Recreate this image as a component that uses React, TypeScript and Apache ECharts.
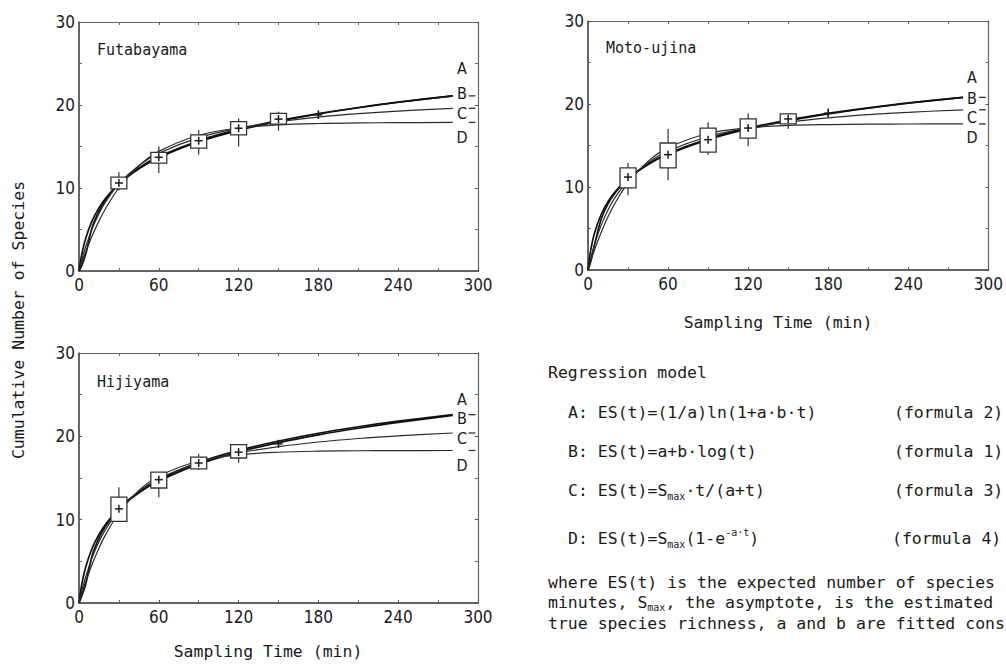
import React, { useEffect, useRef } from "react";
import * as echarts from "echarts";

// ---------- data ----------
const panelNames = ["Futabayama", "Moto-ujina", "Hijiyama"];
const xTickValues = [0, 60, 120, 180, 240, 300];
const yTickValues = [0, 10, 20, 30];
const curveTimes = [0, 2, 5, 10, 15, 20, 30, 45, 60, 90, 120, 150, 180, 210, 240, 281];

// Futabayama fitted curves
const futabayamaA = [0, 1.95, 3.93, 6.1, 7.61, 8.77, 10.5, 12.32, 13.65, 15.57, 16.95, 18.03, 18.92, 19.67, 20.33, 21.1];
const futabayamaB = [0, 0.6, 2.0, 5.3, 7.22, 8.58, 10.5, 12.42, 13.78, 15.7, 17.06, 18.11, 18.97, 19.7, 20.34, 21.1];
const futabayamaC = [0, 1.27, 2.92, 5.15, 6.91, 8.33, 10.5, 12.7, 14.19, 16.07, 17.21, 17.98, 18.53, 18.95, 19.27, 19.6];
const futabayamaD = [0, 0.98, 2.29, 4.28, 6.01, 7.53, 10.0, 12.66, 14.41, 16.36, 17.22, 17.6, 17.77, 17.85, 17.87, 17.9];

// Moto-ujina fitted curves
const motoujinaA = [0, 2.37, 4.53, 6.75, 8.24, 9.36, 11.0, 12.71, 13.95, 15.71, 16.99, 17.98, 18.8, 19.49, 20.09, 20.8];
const motoujinaB = [0, 1.0, 3.13, 6.18, 7.96, 9.22, 11.0, 12.78, 14.04, 15.82, 17.09, 18.07, 18.87, 19.54, 20.13, 20.8];
const motoujinaC = [0, 1.37, 3.12, 5.44, 7.23, 8.66, 10.8, 12.92, 14.33, 16.09, 17.12, 17.83, 18.34, 18.71, 19.0, 19.3];
const motoujinaD = [0, 1.03, 2.47, 4.59, 6.42, 7.99, 10.5, 13.09, 14.74, 16.45, 17.13, 17.41, 17.52, 17.57, 17.59, 17.6];

// Hijiyama fitted curves
const hijiyamaA = [0, 2.15, 4.29, 6.62, 8.23, 9.46, 11.3, 13.23, 14.63, 16.66, 18.1, 19.25, 20.18, 20.97, 21.67, 22.5];
const hijiyamaB = [0, 0.8, 2.23, 5.74, 7.79, 9.25, 11.3, 13.35, 14.8, 16.86, 18.31, 19.44, 20.37, 21.15, 21.82, 22.6];
const hijiyamaC = [0, 1.36, 3.12, 5.49, 7.35, 8.84, 11.1, 13.38, 14.9, 16.84, 17.99, 18.76, 19.32, 19.74, 20.06, 20.4];
const hijiyamaD = [0, 1.06, 2.53, 4.7, 6.58, 8.2, 10.8, 13.5, 15.22, 17.04, 17.78, 18.09, 18.22, 18.27, 18.29, 18.3];

// observed samples: [time, whiskerLow, boxLow, mean, boxHigh, whiskerHigh]
const futabayamaBoxes = [
  [30, 9.7, 9.9, 10.6, 11.3, 11.9],
  [60, 11.8, 13.0, 13.7, 14.3, 15.0],
  [90, 14.0, 14.8, 15.7, 16.4, 17.0],
  [120, 15.0, 16.4, 17.2, 18.0, 18.4],
  [150, 16.9, 17.7, 18.3, 19.0, 19.2],
  [180, 18.4, 18.8, 18.8, 18.8, 19.4],
];
const motoujinaBoxes = [
  [30, 9.0, 9.9, 11.2, 12.3, 12.9],
  [60, 10.8, 12.3, 13.9, 15.3, 17.0],
  [90, 13.9, 14.2, 15.7, 17.1, 17.8],
  [120, 14.9, 15.9, 17.1, 18.2, 18.9],
  [150, 17.0, 17.6, 18.2, 18.8, 18.9],
  [180, 18.4, 18.9, 18.9, 18.9, 19.5],
];
const hijiyamaBoxes = [
  [30, 9.8, 9.8, 11.3, 12.7, 13.9],
  [60, 12.7, 13.8, 14.8, 15.7, 15.7],
  [90, 16.0, 16.1, 16.8, 17.5, 17.9],
  [120, 16.8, 17.4, 18.1, 19.0, 19.0],
  [150, 18.8, 19.1, 19.1, 19.1, 19.4],
];

const curveNames = ["A", "B", "C", "D"];
const panelCurves = [
  [futabayamaA, futabayamaB, futabayamaC, futabayamaD],
  [motoujinaA, motoujinaB, motoujinaC, motoujinaD],
  [hijiyamaA, hijiyamaB, hijiyamaC, hijiyamaD],
];
const panelBoxes = [futabayamaBoxes, motoujinaBoxes, hijiyamaBoxes];

// ---------- layout / style ----------
const MONO = "'DejaVu Sans Mono', 'Liberation Mono', monospace";
const NARROW = "'Liberation Sans Narrow', 'DejaVu Sans Condensed', 'Liberation Sans', sans-serif";
const INK = "#1a1a1a";
const grids = [
  { left: 79, top: 22, width: 399, height: 249 },
  { left: 588, top: 21, width: 402, height: 249 },
  { left: 79, top: 353, width: 399, height: 250 },
];
const panelTitlePos = [
  [97, 50],
  [606, 48],
  [97, 382],
];
const letterPos = [
  [462, [68, 93, 113, 137]],
  [972, [77, 98, 117, 137]],
  [462, [399, 418, 438, 465]],
];
const BOX_W = 12; // minutes
const DASH_FROM = 293;
const DASH_TO = 298;
const curveStyles = [
  { color: "#111", width: 1.7 },
  { color: "#111", width: 1.7 },
  { color: "#2a2a2a", width: 1.2 },
  { color: "#2a2a2a", width: 1.2 },
];

function boxRender(params: any, api: any) {
  const t = api.value(0);
  const lo = api.coord([t, api.value(1)]);
  const q1 = api.coord([t, api.value(2)]);
  const m = api.coord([t, api.value(3)]);
  const q3 = api.coord([t, api.value(4)]);
  const hi = api.coord([t, api.value(5)]);
  const w = api.size([BOX_W, 0])[0];
  const c = 4;
  const children: any[] = [
    { type: "line", shape: { x1: lo[0], y1: lo[1], x2: hi[0], y2: hi[1] }, style: { stroke: "#333", lineWidth: 1.2 } },
  ];
  if (q1[1] - q3[1] > 1) {
    children.push({
      type: "rect",
      shape: { x: q1[0] - w / 2, y: q3[1], width: w, height: q1[1] - q3[1] },
      style: { fill: "#fff", stroke: "#333", lineWidth: 1.3 },
    });
  }
  children.push({ type: "line", shape: { x1: m[0] - c, y1: m[1], x2: m[0] + c, y2: m[1] }, style: { stroke: INK, lineWidth: 1.5 } });
  children.push({ type: "line", shape: { x1: m[0], y1: m[1] - c, x2: m[0], y2: m[1] + c }, style: { stroke: INK, lineWidth: 1.5 } });
  return { type: "group", children };
}

function dashRender(params: any, api: any) {
  const v = api.value(0);
  const p1 = api.coord([DASH_FROM, v]);
  const p2 = api.coord([DASH_TO, v]);
  return {
    type: "line",
    shape: { x1: p1[0], y1: p1[1], x2: p2[0], y2: p2[1] },
    style: { stroke: "#333", lineWidth: 1.3 },
  };
}

function buildOption() {
  const xAxis: any[] = [];
  const yAxis: any[] = [];
  const series: any[] = [];
  const xMin = xTickValues[0];
  const xMax = xTickValues[xTickValues.length - 1];
  const xInt = xTickValues[1] - xTickValues[0];
  const yMin = yTickValues[0];
  const yMax = yTickValues[yTickValues.length - 1];
  const yInt = yTickValues[1] - yTickValues[0];
  const tick = { inside: true, length: 3, lineStyle: { color: "#555", width: 1 } };
  const minor = { show: true, splitNumber: 2, length: 3, lineStyle: { color: "#666", width: 1 } };
  const tickLabel = { fontFamily: NARROW, fontSize: 17, color: INK };

  grids.forEach((g, i) => {
    xAxis.push({
      gridIndex: i, type: "value", min: xMin, max: xMax, interval: xInt, position: "bottom",
      axisLine: { show: true, onZero: false, lineStyle: { color: "#333", width: 1.5 } },
      axisTick: tick, minorTick: minor, splitLine: { show: false }, minorSplitLine: { show: false },
      axisLabel: { ...tickLabel, margin: 5 },
    });
    xAxis.push({
      gridIndex: i, type: "value", min: xMin, max: xMax, interval: xInt, position: "top",
      axisLine: { show: true, onZero: false, lineStyle: { color: "#666", width: 1.2 } },
      axisTick: tick, minorTick: minor, splitLine: { show: false }, axisLabel: { show: false },
    });
    yAxis.push({
      gridIndex: i, type: "value", min: yMin, max: yMax, interval: yInt, position: "left",
      axisLine: { show: true, onZero: false, lineStyle: { color: "#333", width: 1.5 } },
      axisTick: tick, minorTick: minor, splitLine: { show: false },
      axisLabel: { ...tickLabel, margin: 4 },
    });
    yAxis.push({
      gridIndex: i, type: "value", min: yMin, max: yMax, interval: yInt, position: "right",
      axisLine: { show: true, onZero: false, lineStyle: { color: "#666", width: 1.2 } },
      axisTick: tick, minorTick: minor, splitLine: { show: false }, axisLabel: { show: false },
    });

    panelCurves[i].forEach((vals, k) => {
      series.push({
        name: panelNames[i] + " " + curveNames[k],
        type: "line",
        xAxisIndex: 2 * i,
        yAxisIndex: 2 * i,
        data: curveTimes.map((t, j) => [t, vals[j]]),
        smooth: 0.35,
        showSymbol: false,
        symbol: "none",
        lineStyle: { color: curveStyles[k].color, width: curveStyles[k].width },
        z: 2,
      });
    });

    series.push({
      type: "custom",
      coordinateSystem: "cartesian2d",
      xAxisIndex: 2 * i,
      yAxisIndex: 2 * i,
      data: panelCurves[i].slice(1).map((vals) => [vals[vals.length - 1]]),
      encode: { y: 0 },
      renderItem: dashRender,
      z: 3,
    });

    series.push({
      type: "custom",
      coordinateSystem: "cartesian2d",
      xAxisIndex: 2 * i,
      yAxisIndex: 2 * i,
      data: panelBoxes[i],
      encode: { x: 0, y: [1, 2, 3, 4, 5] },
      renderItem: boxRender,
      z: 5,
    });
  });

  const textStyle = (text: string, size: number, extra: any = {}) => ({
    text, fontFamily: MONO, fontSize: size, fill: INK, ...extra,
  });

  const graphic: any[] = [];
  panelNames.forEach((name, i) => {
    graphic.push({
      type: "text", x: panelTitlePos[i][0], y: panelTitlePos[i][1],
      style: textStyle(name, 15, { verticalAlign: "middle" }),
    });
    const [lx, ys] = letterPos[i] as any;
    curveNames.forEach((c, k) => {
      graphic.push({
        type: "text", x: lx, y: ys[k],
        style: { text: c, fontFamily: NARROW, fontSize: 16, lineHeight: 16, fill: INK, align: "center", verticalAlign: "middle" },
      });
    });
  });

  graphic.push({
    type: "text", x: 18, y: 320, rotation: Math.PI / 2,
    style: textStyle("Cumulative Number of Species", 16.5, { align: "center", verticalAlign: "middle" }),
  });
  graphic.push({
    type: "text", x: 268, y: 651,
    style: textStyle("Sampling Time (min)", 16.5, { align: "center", verticalAlign: "middle" }),
  });
  graphic.push({
    type: "text", x: 778, y: 322,
    style: textStyle("Sampling Time (min)", 16.5, { align: "center", verticalAlign: "middle" }),
  });
  graphic.push({
    type: "text", x: 548, y: 372,
    style: textStyle("Regression model", 16.5, { verticalAlign: "middle" }),
  });

  const rich = {
    n: { fontFamily: MONO, fontSize: 16.5, lineHeight: 22, fill: INK, color: INK, verticalAlign: "middle" },
    s: { fontFamily: MONO, fontSize: 10, lineHeight: 11, fill: INK, color: INK, verticalAlign: "bottom" },
    p: { fontFamily: MONO, fontSize: 10, lineHeight: 10, fill: INK, color: INK, verticalAlign: "top" },
  };
  const formulas = [
    { y: 412, text: "{n|A: ES(t)=(1/a)ln(1+a·b·t)}", ref: "(formula 2)", rx: 894 },
    { y: 451, text: "{n|B: ES(t)=a+b·log(t)}", ref: "(formula 1)", rx: 894 },
    { y: 490, text: "{n|C: ES(t)=S}{s|max}{n|·t/(a+t)}", ref: "(formula 3)", rx: 894 },
    { y: 538, text: "{n|D: ES(t)=S}{s|max}{n|(1-e}{p|-a·t}{n|)}", ref: "(formula 4)", rx: 892 },
  ];
  formulas.forEach((f) => {
    graphic.push({
      type: "text", x: 568, y: f.y,
      style: { text: f.text, rich, verticalAlign: "middle", fontFamily: MONO, fontSize: 16.5, fill: INK },
    });
    graphic.push({
      type: "text", x: f.rx, y: f.y,
      style: textStyle(f.ref, 16.5, { verticalAlign: "middle" }),
    });
  });

  const notes = [
    { y: 582, text: "{n|where ES(t) is the expected number of species}" },
    { y: 602, text: "{n|minutes, S}{s|max}{n|, the asymptote, is the estimated}" },
    { y: 623, text: "{n|true species richness, a and b are fitted cons}" },
  ];
  const richNote = {
    n: { fontFamily: MONO, fontSize: 16.5, lineHeight: 20, fill: INK, color: INK, verticalAlign: "middle" },
    s: { fontFamily: MONO, fontSize: 10, lineHeight: 10, fill: INK, color: INK, verticalAlign: "bottom" },
  };
  notes.forEach((nt) => {
    graphic.push({
      type: "text", x: 548, y: nt.y,
      style: { text: nt.text, rich: richNote, verticalAlign: "middle", fontFamily: MONO, fontSize: 16.5, fill: INK },
    });
  });

  return {
    animation: false,
    backgroundColor: "#fff",
    grid: grids.map((g) => ({ ...g, containLabel: false })),
    xAxis,
    yAxis,
    series,
    graphic,
  };
}

export default function App() {
  const ref = useRef<HTMLDivElement>(null);
  useEffect(() => {
    if (!ref.current) return;
    const chart = echarts.init(ref.current, undefined, { renderer: "svg" });
    chart.setOption(buildOption() as any);
    return () => chart.dispose();
  }, []);
  return (
    <div
      ref={ref}
      style={{ position: "fixed", left: 0, top: 0, width: 1006, height: 667, background: "#fff" }}
    />
  );
}
